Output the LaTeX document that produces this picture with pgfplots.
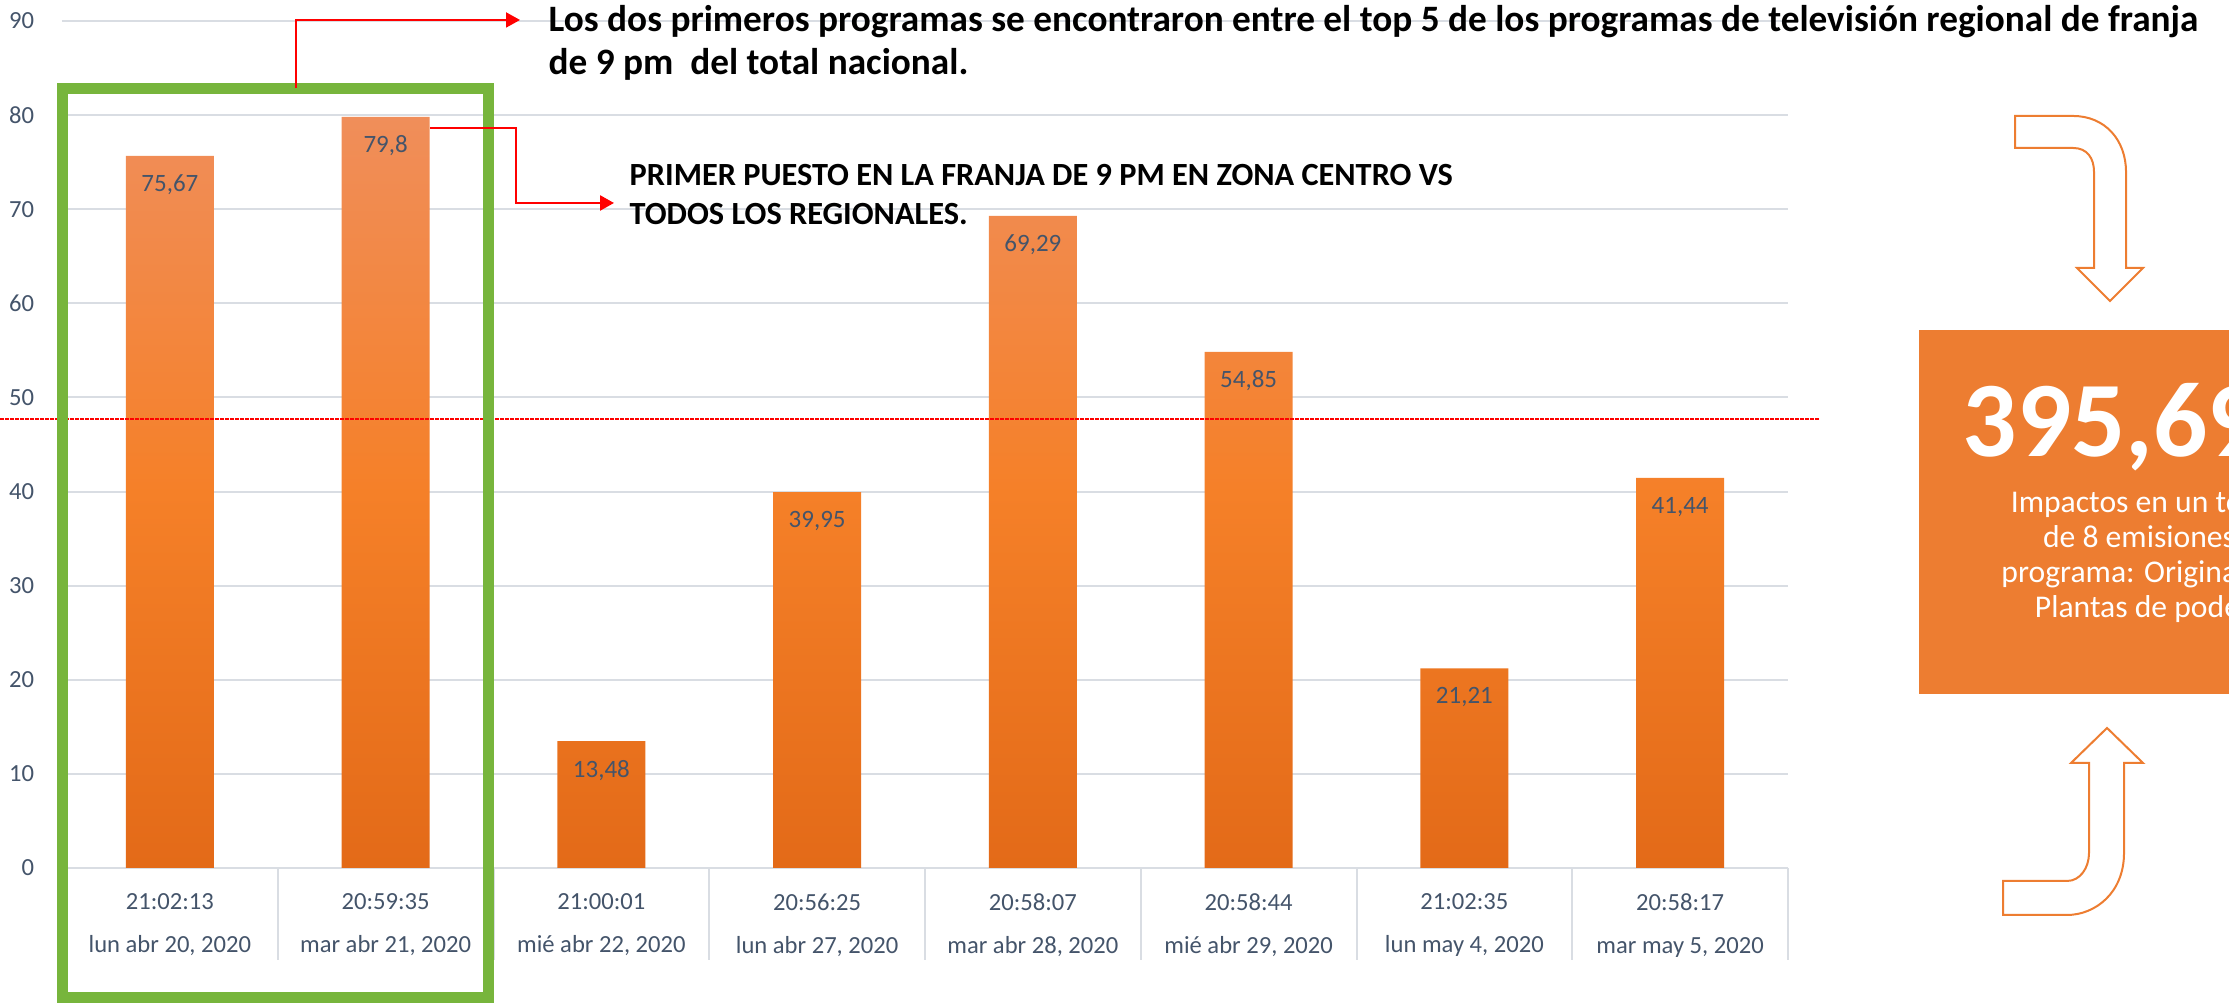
\documentclass[border=0pt]{standalone}
\usepackage{fontspec}
\setmainfont{Carlito}
\usepackage{pgfplots}
\pgfplotsset{compat=1.18}
\usepackage{pgfplotstable}
\usetikzlibrary{arrows.meta}
\definecolor{barTop}{HTML}{F08E5A}
\definecolor{barMid}{HTML}{F58028}
\definecolor{barBot}{HTML}{E36A18}
\definecolor{labcol}{HTML}{44546A}
\definecolor{gridcol}{HTML}{D9DDE3}
\definecolor{boxor}{HTML}{ED7D31}
\definecolor{grn}{HTML}{77B53C}

\pgfplotstableread{
x y lbl
0 75.67 75,67
1 79.8 79,8
2 13.48 13,48
3 39.95 39,95
4 69.29 69,29
5 54.85 54,85
6 21.21 21,21
7 41.44 41,44
}\datatable

\begin{document}
\begin{tikzpicture}[x=1cm,y=1cm]
\useasboundingbox (0,0) rectangle (22.29,10.03);
\clip (0,0) rectangle (22.29,10.03);
\begin{axis}[
  at={(0.62cm,1.35cm)}, anchor=south west,
  scale only axis, width=17.26cm, height=8.47cm,
  xmin=-0.5, xmax=7.5, ymin=0, ymax=90,
  ytick={0,10,...,90},
  xtick={0,...,7},
  xticklabels={{21:02:13\\lun abr 20, 2020},{20:59:35\\mar abr 21, 2020},{21:00:01\\mié abr 22, 2020},{20:56:25\\lun abr 27, 2020},{20:58:07\\mar abr 28, 2020},{20:58:44\\mié abr 29, 2020},{21:02:35\\lun may 4, 2020},{20:58:17\\mar may 5, 2020}},
  axis line style={draw=none},
  tick style={draw=none},
  ymajorgrids, grid style={gridcol, line width=0.02cm},
  /pgf/number format/assume math mode=true,
  yticklabel style={font=\fontsize{7}{8}\selectfont, text=labcol, xshift=-0.155cm},
  xticklabel style={font=\fontsize{7}{12.3}\selectfont, text=labcol, align=center, yshift=0.02cm},
  ybar, bar width=0.88cm,
  nodes near coords, point meta=explicit symbolic,
  every node near coord/.append style={font=\fontsize{7.1}{8}\selectfont, text=labcol, anchor=center, yshift=-0.29cm},
  clip=false,
]
\addplot[draw=none, top color=barTop, bottom color=barBot, middle color=barMid] table[x=x,y=y,meta=lbl]{\datatable};
\end{axis}
% separators under categories
\foreach \k in {0,...,8} \draw[gridcol, line width=0.02cm] ({0.62+2.1575*\k},1.35) -- ({0.62+2.1575*\k},0.43);
% dashed reference line
\draw[red, line width=0.02cm, dash pattern=on 0.035cm off 0.015cm] (0,5.84) -- (18.2,5.84);
% green frame
\draw[grn, line width=0.11cm] (0.625,9.145) rectangle (4.885,0.055);
% red connectors
\draw[red, line width=0.02cm, -{Triangle[length=0.14cm,width=0.15cm]}] (2.96,9.145) -- (2.96,9.83) -- (5.20,9.83);
\draw[red, line width=0.025cm, -{Triangle[length=0.14cm,width=0.15cm]}] (4.30,8.75) -- (5.16,8.75) -- (5.16,8.00) -- (6.14,8.00);
% annotations
\node[anchor=base west, inner sep=0, font=\bfseries\fontsize{10.6}{12}\selectfont] at (5.48,9.71) {Los dos primeros programas se encontraron entre el top 5 de los programas de televisión regional de franja};
\node[anchor=base west, inner sep=0, font=\bfseries\fontsize{10.6}{12}\selectfont] at (5.48,9.28) {de 9 pm\ \ del total nacional.};
\node[anchor=base west, inner sep=0, font=\bfseries\fontsize{9.2}{11}\selectfont] at (6.29,8.17) {PRIMER PUESTO EN LA FRANJA DE 9 PM EN ZONA CENTRO VS};
\node[anchor=base west, inner sep=0, font=\bfseries\fontsize{9.2}{11}\selectfont] at (6.29,7.78) {TODOS LOS REGIONALES.};
% right summary box
\fill[boxor] (19.19,3.09) rectangle (23.6,6.73);
\node[anchor=base west, inner sep=0, text=white, font=\bfseries\fontsize{30.5}{36}\selectfont] at (19.62,5.46) {395,69};
\node[anchor=base, inner sep=0, text=white, font=\fontsize{9}{11}\selectfont] at (21.43,4.90) {Impactos en un total};
\node[anchor=base, inner sep=0, text=white, font=\fontsize{9}{11}\selectfont] at (21.43,4.55) {de 8 emisiones.};
\node[anchor=base, inner sep=0, text=white, font=\fontsize{9}{11}\selectfont] at (21.43,4.20) {programa: Originarios};
\node[anchor=base, inner sep=0, text=white, font=\fontsize{9}{11}\selectfont] at (21.43,3.85) {Plantas de poder};
% curved arrows
\draw[boxor, line width=0.02cm, fill=white] (20.15,8.87) -- (20.73,8.87) .. controls (21.05,8.87) and (21.26,8.63) .. (21.26,8.31) -- (21.26,7.35) -- (21.43,7.35) -- (21.10,7.02) -- (20.77,7.35) -- (20.94,7.35) -- (20.94,8.31) .. controls (20.94,8.45) and (20.87,8.55) .. (20.73,8.55) -- (20.15,8.55) -- cycle;
\draw[boxor, line width=0.02cm, fill=white] (21.07,2.75) -- (21.43,2.40) -- (21.24,2.40) -- (21.24,1.50) .. controls (21.24,1.10) and (20.95,0.88) .. (20.67,0.88) -- (20.03,0.88) -- (20.03,1.22) -- (20.67,1.22) .. controls (20.80,1.22) and (20.89,1.35) .. (20.89,1.50) -- (20.89,2.40) -- (20.71,2.40) -- cycle;
\end{tikzpicture}
\end{document}
